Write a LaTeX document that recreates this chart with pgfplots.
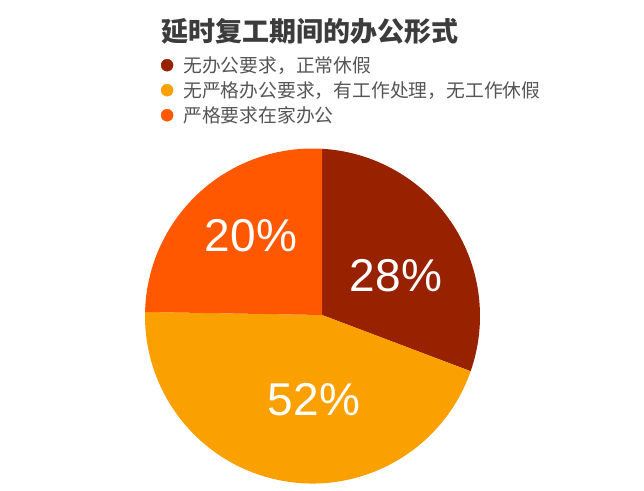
\documentclass[border=0pt]{standalone}
\usepackage{fontspec}
\setmainfont{Noto Sans CJK SC}
\newfontfamily\numfont{Liberation Sans}
\usepackage{pgfplots}
\usepackage{pgfplotstable}
\pgfplotsset{compat=1.18}

\definecolor{cA}{RGB}{152,33,0}
\definecolor{cB}{RGB}{250,160,0}
\definecolor{cC}{RGB}{255,88,0}
\definecolor{titlegray}{RGB}{60,60,60}
\definecolor{textgray}{RGB}{85,85,85}

%% slices: rim angles as drawn (deg), colour, label, label position
\pgfplotstableread{
a1      a2       col  pct  lx   ly
86.74   -19.25   cA   28   396  214.5
-19.25  -181.37  cB   52   314  90
178.63  86.74    cC   20   251  254.5
}\slices

\begin{document}
\begin{tikzpicture}
\useasboundingbox (0,0) rectangle (644pt,490pt);
\begin{axis}[
    at={(0pt,0pt)}, anchor=south west,
    x=1pt, y=1pt,
    xmin=0, xmax=644, ymin=0, ymax=490,
    hide axis, clip=false,
    legend cell align=left,
    legend style={
        at={(axis cs:160.7,432)}, anchor=north west,
        draw=none, fill=none, inner sep=0pt,
        font=\fontsize{18.8}{22}\selectfont, text=textgray,
        row sep=7pt,
        nodes={inner sep=0pt, text height=14pt, text depth=4pt},
    },
    legend image code/.code={
        \path (0pt,0pt) (22pt,0pt);
        \fill[#1] (6pt,2pt) circle[radius=6pt];
    },
]
%% wedges
\pgfplotsforeachungrouped \i in {0,1,2}{
    \pgfplotstablegetelem{\i}{a1}\of\slices \let\aone\pgfplotsretval
    \pgfplotstablegetelem{\i}{a2}\of\slices \let\atwo\pgfplotsretval
    \pgfplotstablegetelem{\i}{col}\of\slices \let\col\pgfplotsretval
    \edef\temp{\noexpand\fill[\col] (axis cs:322,175)
        -- (axis cs:{312.5+167.5*cos(\aone)},{174+167.5*sin(\aone)})
        arc[start angle=\aone, end angle=\atwo, radius=167.5pt] -- cycle;}
    \temp
}
%% percentage labels
\addplot[forget plot, only marks, mark=none,
    point meta=explicit symbolic,
    nodes near coords={\pgfplotspointmeta\%},
    nodes near coords style={anchor=center, inner sep=0pt, text=white,
        font=\numfont\fontsize{46}{50}\selectfont}]
    table[x=lx, y=ly, meta=pct] {\slices};

\addlegendimage{cA}
\addlegendimage{cB}
\addlegendimage{cC}
\legend{无办公要求，正常休假, 无严格办公要求，有工作处理，无工作休假, 严格要求在家办公}

\node[text=titlegray, font=\fontsize{27}{32}\selectfont\bfseries, inner sep=0pt]
    at (axis cs:310,459) {延时复工期间的办公形式};
\end{axis}
\end{tikzpicture}
\end{document}
